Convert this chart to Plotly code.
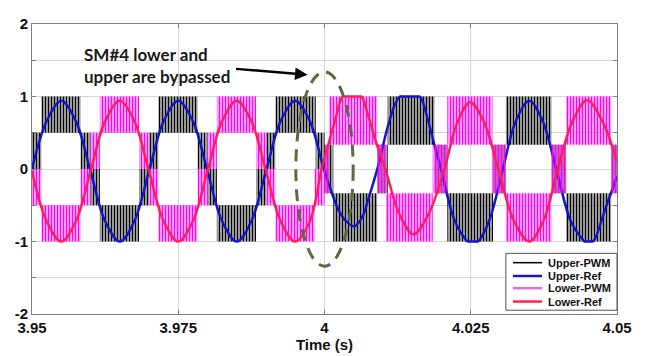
import plotly.graph_objects as go

# ---------------- data ----------------
# Upper arm reference (blue)
upper_ref_t = [3.95, 3.9525, 3.955, 3.9575, 3.96, 3.9625, 3.965, 3.9675,
               3.97, 3.9725, 3.975, 3.9775, 3.98, 3.9825, 3.985, 3.9875,
               3.99, 3.9925, 3.995, 3.9975, 4.0, 4.0025, 4.0038, 4.0051,
               4.0064, 4.0077, 4.0092, 4.0107, 4.0121, 4.0129, 4.0132, 4.016,
               4.0163, 4.0167, 4.0176, 4.0188, 4.0199, 4.0222, 4.0241, 4.0245,
               4.0248, 4.0259, 4.0262, 4.0266, 4.0283, 4.0304, 4.0327, 4.035,
               4.0373, 4.0397, 4.0421, 4.0441, 4.0445, 4.0448, 4.0455, 4.0458,
               4.0462, 4.048, 4.05]
upper_ref_v = [0.0, 0.66, 0.94, 0.66, -0.03, -0.72, -1.0, -0.72,
               -0.03, 0.66, 0.94, 0.66, -0.03, -0.72, -1.0, -0.72,
               -0.03, 0.66, 0.94, 0.66, -0.03, -0.58, -0.73, -0.79,
               -0.67, -0.36, 0.05, 0.55, 0.9, 1.0, 1.0, 1.0,
               1.0, 0.95, 0.7, 0.33, 0.0, -0.7, -0.97, -1.0,
               -1.0, -1.0, -1.0, -0.97, -0.68, -0.03, 0.66, 0.94,
               0.66, -0.03, -0.72, -0.97, -1.0, -1.0, -1.0, -1.0,
               -0.97, -0.55, -0.1]

# Lower arm reference (red)
lower_ref_t = [3.95, 3.9525, 3.955, 3.9575, 3.96, 3.9625, 3.965, 3.9675,
               3.97, 3.9725, 3.975, 3.9775, 3.98, 3.9825, 3.985, 3.9875,
               3.99, 3.9925, 3.995, 3.9975, 3.9995, 4.0007, 4.0019, 4.0027,
               4.0031, 4.0034, 4.006, 4.0063, 4.0067, 4.0076, 4.0089, 4.0104,
               4.0128, 4.0152, 4.0178, 4.0205, 4.0227, 4.0249, 4.0273, 4.0298,
               4.0324, 4.035, 4.0374, 4.0398, 4.0424, 4.0449, 4.0475, 4.05]
lower_ref_v = [-0.03, -0.72, -1.0, -0.72, -0.03, 0.66, 0.94, 0.66,
               -0.03, -0.72, -1.0, -0.72, -0.03, 0.66, 0.94, 0.66,
               -0.03, -0.72, -1.0, -0.72, 0.0, 0.35, 0.7, 0.94,
               1.0, 1.0, 1.0, 1.0, 0.94, 0.7, 0.35, 0.0,
               -0.62, -0.9, -0.62, 0.0, 0.64, 0.92, 0.64, -0.03,
               -0.72, -1.0, -0.72, -0.03, 0.66, 0.95, 0.66, 0.1]

# Upper PWM switching bands: start, end, low level, high level
upper_pwm_start = [3.95, 3.9516, 3.9583, 3.96, 3.9616, 3.9683, 3.97, 3.9716,
                   3.9783, 3.98, 3.9816, 3.9883, 3.99, 3.9916, 3.9985,
                   4.0, 4.0015, 4.0090, 4.0108, 4.0188, 4.021, 4.0288,
                   4.031, 4.0388, 4.0413, 4.049]
upper_pwm_end = [3.9516, 3.9583, 3.96, 3.9616, 3.9683, 3.97, 3.9716, 3.9783,
                 3.98, 3.9816, 3.9883, 3.99, 3.9916, 3.9985, 4.0,
                 4.0015, 4.0090, 4.0108, 4.0188, 4.021, 4.0288, 4.031,
                 4.0388, 4.0413, 4.049, 4.05]
upper_pwm_low = [0, 0.5, 0, -0.5, -1, -0.5, 0, 0.5,
                 0, -0.5, -1, -0.5, 0, 0.5, 0,
                 -0.333, -1, -0.333, 0.333, -0.333, -1, -0.333,
                 0.333, -0.333, -1, -0.333]
upper_pwm_high = [0.5, 1, 0.5, 0, -0.5, 0, 0.5, 1,
                  0.5, 0, -0.5, 0, 0.5, 1, 0.5,
                  0.333, -0.333, 0.333, 1, 0.333, -0.333, 0.333,
                  1, 0.333, -0.333, 0.333]

# Lower PWM switching bands
lower_pwm_start = [3.95, 3.9516, 3.9583, 3.96, 3.9616, 3.9683, 3.97, 3.9716,
                   3.9783, 3.98, 3.9816, 3.9883, 3.99, 3.9916, 3.9983,
                   4.0, 4.0008, 4.0090, 4.0105, 4.0185, 4.021, 4.0287,
                   4.031, 4.0388, 4.0413, 4.049]
lower_pwm_end = [3.9516, 3.9583, 3.96, 3.9616, 3.9683, 3.97, 3.9716, 3.9783,
                 3.98, 3.9816, 3.9883, 3.99, 3.9916, 3.9983, 4.0,
                 4.0008, 4.0090, 4.0105, 4.0185, 4.021, 4.0287, 4.031,
                 4.0388, 4.0413, 4.049, 4.05]
lower_pwm_low = [-0.5, -1, -0.5, 0, 0.5, 0, -0.5, -1,
                 -0.5, 0, 0.5, 0, -0.5, -1, -0.5,
                 -0.333, 0.333, -0.333, -1, -0.333, 0.333, -0.333,
                 -1, -0.333, 0.333, -0.333]
lower_pwm_high = [0, -0.5, 0, 0.5, 1, 0.5, 0, -0.5,
                  0, 0.5, 1, 0.5, 0, -0.5, 0,
                  0.333, 1, 0.333, -0.333, 0.333, 1, 0.333,
                  -0.333, 0.333, 1, 0.333]

x_ticks = [3.95, 3.975, 4.0, 4.025, 4.05]
x_tick_labels = ["3.95", "3.975", "4", "4.025", "4.05"]
y_ticks = [-2, -1.5, -1, -0.5, 0, 0.5, 1, 1.5, 2]
y_tick_labels = ["-2", "", "-1", "", "0", "", "1", "", "2"]

series_names = ["Upper-PWM", "Upper-Ref", "Lower-PWM", "Lower-Ref"]

# ---------------- styling ----------------
C_UPWM = "#000000"
C_UREF = "#1414c8"
C_LPWM = "#ff00ff"
C_LREF = "#ff1f55"
FONT = "Liberation Sans"


def band_path(starts, ends, lows, highs):
    xs, ys = [], []
    for a, b, lo, hi in zip(starts, ends, lows, highs):
        xs += [a, a, b, b, a, None]
        ys += [lo, hi, hi, lo, lo, None]
    return xs, ys


fig = go.Figure()

ux, uy = band_path(upper_pwm_start, upper_pwm_end, upper_pwm_low, upper_pwm_high)
fig.add_trace(go.Scatter(
    x=ux, y=uy, mode="lines", fill="toself",
    line=dict(width=0, color="rgba(0,0,0,0)"),
    fillcolor="rgba(0,0,0,0)",
    fillpattern=dict(shape="|", size=3, solidity=0.6, fgcolor=C_UPWM,
                     bgcolor="rgba(255,255,255,0)", fillmode="replace"),
    hoverinfo="skip", showlegend=False))

fig.add_trace(go.Scatter(
    x=upper_ref_t, y=upper_ref_v, mode="lines",
    line=dict(color=C_UREF, width=2.5, shape="spline", smoothing=1.0),
    showlegend=False))

lx, ly = band_path(lower_pwm_start, lower_pwm_end, lower_pwm_low, lower_pwm_high)
fig.add_trace(go.Scatter(
    x=lx, y=ly, mode="lines", fill="toself",
    line=dict(width=0, color="rgba(0,0,0,0)"),
    fillcolor="rgba(0,0,0,0)",
    fillpattern=dict(shape="|", size=3, solidity=0.6, fgcolor=C_LPWM,
                     bgcolor="rgba(255,255,255,0)", fillmode="replace"),
    hoverinfo="skip", showlegend=False))

fig.add_trace(go.Scatter(
    x=lower_ref_t, y=lower_ref_v, mode="lines",
    line=dict(color=C_LREF, width=2.5, shape="spline", smoothing=1.0),
    showlegend=False))

# dashed ellipse marking the bypass instant
fig.add_shape(type="circle", xref="x", yref="y",
              x0=3.9951, x1=4.0049, y0=-1.34, y1=1.34,
              line=dict(color="#5c6a40", width=3, dash="12px,8px"),
              layer="above")

# text + arrow
fig.add_annotation(x=3.9586, y=1.434, xref="x", yref="y",
                   text="SM#4 lower and<br>upper are bypassed",
                   showarrow=False, xanchor="left", yanchor="middle", align="left",
                   font=dict(family="Lato", size=17, color="#1a1a1a", weight="bold"))
fig.add_annotation(x=3.9971, y=1.30, xref="x", yref="y",
                   ax=-73, ay=-6, axref="pixel", ayref="pixel",
                   text="", showarrow=True, arrowhead=2, arrowsize=1,
                   arrowwidth=2.5, arrowcolor="#000000")

# compact legend box (paper coordinates of the plot area)
leg_styles = [(C_UPWM, 1.5), (C_UREF, 2.5), ("#e070e0", 2.5), (C_LREF, 2.5)]
leg_rows = [0.177, 0.131, 0.089, 0.043]
fig.add_shape(type="rect", xref="paper", yref="paper",
              x0=0.810, x1=1.0, y0=0.013, y1=0.209,
              line=dict(color="#555555", width=1), fillcolor="white", layer="above")
for name, (col, w), yy in zip(series_names, leg_styles, leg_rows):
    fig.add_shape(type="line", xref="paper", yref="paper",
                  x0=0.822, x1=0.872, y0=yy, y1=yy,
                  line=dict(color=col, width=w), layer="above")
    fig.add_annotation(x=0.8786, y=yy, xref="paper", yref="paper",
                       text=name, showarrow=False, xanchor="left", yanchor="middle",
                       font=dict(family=FONT, size=11, color="#111111", weight="bold"))

axis_common = dict(
    showgrid=True, gridcolor="#d6d6d6", gridwidth=1,
    showline=True, linecolor="#7f7f7f", linewidth=1, mirror="ticks",
    ticks="inside", ticklen=4, tickcolor="#7f7f7f",
    zeroline=False, ticklabeloverflow="allow",
    tickfont=dict(family=FONT, size=15, color="#111111", weight="bold"),
)

fig.update_layout(
    width=641, height=348,
    margin=dict(l=24, r=32, t=7, b=40),
    paper_bgcolor="white", plot_bgcolor="white",
    xaxis=dict(range=[3.95, 4.05], tickvals=x_ticks, ticktext=x_tick_labels,
               title=dict(text="Time (s)", standoff=2,
                          font=dict(family=FONT, size=15, color="#111111", weight="bold")),
               **axis_common),
    yaxis=dict(range=[-2, 2], tickvals=y_ticks, ticktext=y_tick_labels, **axis_common),
    showlegend=False,
)

fig.write_html("out.html")
